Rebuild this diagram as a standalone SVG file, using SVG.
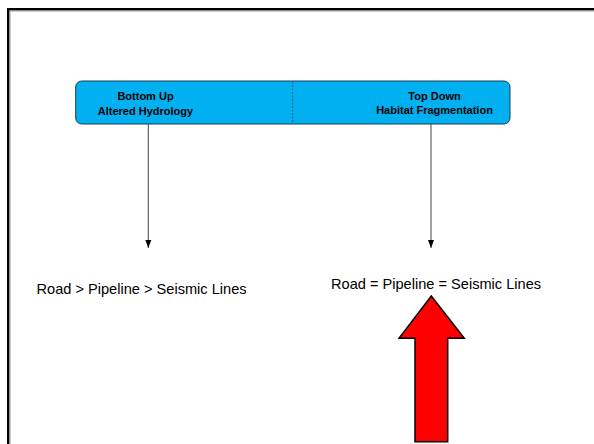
<svg xmlns="http://www.w3.org/2000/svg" width="594" height="444" viewBox="0 0 594 444">
<style>
.hdr{font-family:"Liberation Sans",Arial,sans-serif;font-size:11px;font-weight:bold;fill:#000;text-anchor:middle}
.lbl{font-family:"Liberation Sans",Arial,sans-serif;font-size:14.6px;fill:#000}
.conn{stroke:#444;stroke-width:1;fill:none}
</style>
<defs>
<marker id="ah" viewBox="0 0 8 8" refX="8" refY="4" markerWidth="8" markerHeight="8" markerUnits="userSpaceOnUse" orient="auto">
<path d="M0,1 L8,4 L0,7 Z" fill="#000"/>
</marker>
</defs>
<rect width="594" height="444" fill="#fff"/>
<g id="frame">
<rect x="10.2" y="11.2" width="600" height="450" fill="none" stroke="#bbb" stroke-width="1"/>
<rect x="8.2" y="9.2" width="600" height="450" fill="none" stroke="#000" stroke-width="2.4"/>
</g>
<g id="header">
<rect x="75.7" y="81" width="434.3" height="43" rx="6" ry="6" fill="#00B0F0" stroke="#1d3d50" stroke-width="1"/>
<line x1="292.7" y1="81.5" x2="292.7" y2="123.5" stroke="#2a5f80" stroke-width="1" stroke-dasharray="2,1.5"/>
<text class="hdr" x="145.5" y="100">Bottom Up</text>
<text class="hdr" x="145.5" y="115">Altered Hydrology</text>
<text class="hdr" x="434.5" y="100">Top Down</text>
<text class="hdr" x="434.5" y="114">Habitat Fragmentation</text>
</g>
<g id="connectors">
<line class="conn" x1="148.3" y1="124" x2="148.3" y2="248" marker-end="url(#ah)"/>
<line class="conn" x1="431" y1="124" x2="431" y2="248" marker-end="url(#ah)"/>
</g>
<g id="left-label">
<text class="lbl" x="36.5" y="294">Road &gt; Pipeline &gt; Seismic Lines</text>
</g>
<g id="right-label">
<text class="lbl" x="331" y="289">Road = Pipeline = Seismic Lines</text>
</g>
<g id="red-arrow">
<polygon points="431.3,296 464.3,338.3 447.7,338.3 447.7,441.7 415,441.7 415,338.3 399,338.3" fill="#ff0000" stroke="#000" stroke-width="1.5" stroke-linejoin="miter"/>
</g>
</svg>
